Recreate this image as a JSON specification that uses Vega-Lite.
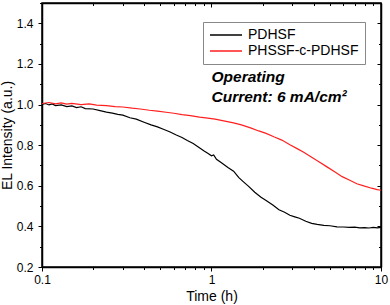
{
  "$schema": "https://vega.github.io/schema/vega-lite/v6.json",
  "width": 339,
  "height": 264,
  "autosize": {"type": "none"},
  "padding": {"left": 42, "top": 3, "right": 9, "bottom": 38},
  "background": "white",
  "config": {
    "font": "Liberation Sans",
    "view": {"stroke": "black", "strokeWidth": 1.5},
    "axis": {"grid": false, "domainColor": "black", "domainWidth": 1.5, "tickColor": "black", "tickWidth": 1, "labelColor": "black", "titleColor": "black", "labelFont": "Liberation Sans", "titleFont": "Liberation Sans", "labelFontSize": 12, "titleFontSize": 14, "titleFontWeight": "normal", "labelFlush": false, "labelOverlap": false}
  },
  "datasets": {
    "curves": [
      {"t": 0.100, "v": 1.000, "s": "PDHSF"},
      {"t": 0.105, "v": 1.005, "s": "PDHSF"},
      {"t": 0.110, "v": 0.998, "s": "PDHSF"},
      {"t": 0.115, "v": 1.003, "s": "PDHSF"},
      {"t": 0.120, "v": 0.995, "s": "PDHSF"},
      {"t": 0.130, "v": 0.998, "s": "PDHSF"},
      {"t": 0.140, "v": 0.990, "s": "PDHSF"},
      {"t": 0.150, "v": 0.993, "s": "PDHSF"},
      {"t": 0.160, "v": 0.985, "s": "PDHSF"},
      {"t": 0.170, "v": 0.989, "s": "PDHSF"},
      {"t": 0.180, "v": 0.980, "s": "PDHSF"},
      {"t": 0.200, "v": 0.978, "s": "PDHSF"},
      {"t": 0.220, "v": 0.970, "s": "PDHSF"},
      {"t": 0.240, "v": 0.963, "s": "PDHSF"},
      {"t": 0.260, "v": 0.958, "s": "PDHSF"},
      {"t": 0.280, "v": 0.952, "s": "PDHSF"},
      {"t": 0.300, "v": 0.948, "s": "PDHSF"},
      {"t": 0.330, "v": 0.935, "s": "PDHSF"},
      {"t": 0.360, "v": 0.928, "s": "PDHSF"},
      {"t": 0.400, "v": 0.913, "s": "PDHSF"},
      {"t": 0.440, "v": 0.900, "s": "PDHSF"},
      {"t": 0.480, "v": 0.890, "s": "PDHSF"},
      {"t": 0.520, "v": 0.878, "s": "PDHSF"},
      {"t": 0.570, "v": 0.865, "s": "PDHSF"},
      {"t": 0.620, "v": 0.850, "s": "PDHSF"},
      {"t": 0.670, "v": 0.838, "s": "PDHSF"},
      {"t": 0.720, "v": 0.823, "s": "PDHSF"},
      {"t": 0.780, "v": 0.808, "s": "PDHSF"},
      {"t": 0.840, "v": 0.790, "s": "PDHSF"},
      {"t": 0.900, "v": 0.772, "s": "PDHSF"},
      {"t": 0.950, "v": 0.760, "s": "PDHSF"},
      {"t": 1.000, "v": 0.748, "s": "PDHSF"},
      {"t": 1.030, "v": 0.752, "s": "PDHSF"},
      {"t": 1.070, "v": 0.730, "s": "PDHSF"},
      {"t": 1.150, "v": 0.712, "s": "PDHSF"},
      {"t": 1.250, "v": 0.690, "s": "PDHSF"},
      {"t": 1.350, "v": 0.672, "s": "PDHSF"},
      {"t": 1.450, "v": 0.640, "s": "PDHSF"},
      {"t": 1.550, "v": 0.618, "s": "PDHSF"},
      {"t": 1.650, "v": 0.598, "s": "PDHSF"},
      {"t": 1.800, "v": 0.568, "s": "PDHSF"},
      {"t": 1.950, "v": 0.545, "s": "PDHSF"},
      {"t": 2.100, "v": 0.528, "s": "PDHSF"},
      {"t": 2.300, "v": 0.505, "s": "PDHSF"},
      {"t": 2.500, "v": 0.482, "s": "PDHSF"},
      {"t": 2.700, "v": 0.470, "s": "PDHSF"},
      {"t": 2.900, "v": 0.455, "s": "PDHSF"},
      {"t": 3.100, "v": 0.447, "s": "PDHSF"},
      {"t": 3.300, "v": 0.440, "s": "PDHSF"},
      {"t": 3.600, "v": 0.425, "s": "PDHSF"},
      {"t": 3.900, "v": 0.415, "s": "PDHSF"},
      {"t": 4.200, "v": 0.410, "s": "PDHSF"},
      {"t": 4.600, "v": 0.405, "s": "PDHSF"},
      {"t": 5.000, "v": 0.403, "s": "PDHSF"},
      {"t": 5.500, "v": 0.398, "s": "PDHSF"},
      {"t": 6.000, "v": 0.397, "s": "PDHSF"},
      {"t": 6.500, "v": 0.395, "s": "PDHSF"},
      {"t": 7.000, "v": 0.396, "s": "PDHSF"},
      {"t": 7.500, "v": 0.393, "s": "PDHSF"},
      {"t": 8.000, "v": 0.394, "s": "PDHSF"},
      {"t": 8.500, "v": 0.392, "s": "PDHSF"},
      {"t": 9.000, "v": 0.395, "s": "PDHSF"},
      {"t": 9.500, "v": 0.393, "s": "PDHSF"},
      {"t": 10.00, "v": 0.395, "s": "PDHSF"},
      {"t": 0.100, "v": 1.005, "s": "PHSSF-c-PDHSF"},
      {"t": 0.110, "v": 1.010, "s": "PHSSF-c-PDHSF"},
      {"t": 0.120, "v": 1.003, "s": "PHSSF-c-PDHSF"},
      {"t": 0.130, "v": 1.008, "s": "PHSSF-c-PDHSF"},
      {"t": 0.140, "v": 1.002, "s": "PHSSF-c-PDHSF"},
      {"t": 0.150, "v": 1.006, "s": "PHSSF-c-PDHSF"},
      {"t": 0.170, "v": 1.000, "s": "PHSSF-c-PDHSF"},
      {"t": 0.190, "v": 1.003, "s": "PHSSF-c-PDHSF"},
      {"t": 0.210, "v": 0.997, "s": "PHSSF-c-PDHSF"},
      {"t": 0.240, "v": 0.995, "s": "PHSSF-c-PDHSF"},
      {"t": 0.270, "v": 0.990, "s": "PHSSF-c-PDHSF"},
      {"t": 0.300, "v": 0.988, "s": "PHSSF-c-PDHSF"},
      {"t": 0.340, "v": 0.982, "s": "PHSSF-c-PDHSF"},
      {"t": 0.380, "v": 0.978, "s": "PHSSF-c-PDHSF"},
      {"t": 0.430, "v": 0.972, "s": "PHSSF-c-PDHSF"},
      {"t": 0.480, "v": 0.968, "s": "PHSSF-c-PDHSF"},
      {"t": 0.540, "v": 0.962, "s": "PHSSF-c-PDHSF"},
      {"t": 0.600, "v": 0.957, "s": "PHSSF-c-PDHSF"},
      {"t": 0.670, "v": 0.950, "s": "PHSSF-c-PDHSF"},
      {"t": 0.750, "v": 0.945, "s": "PHSSF-c-PDHSF"},
      {"t": 0.850, "v": 0.938, "s": "PHSSF-c-PDHSF"},
      {"t": 0.950, "v": 0.933, "s": "PHSSF-c-PDHSF"},
      {"t": 1.050, "v": 0.928, "s": "PHSSF-c-PDHSF"},
      {"t": 1.200, "v": 0.918, "s": "PHSSF-c-PDHSF"},
      {"t": 1.350, "v": 0.910, "s": "PHSSF-c-PDHSF"},
      {"t": 1.500, "v": 0.900, "s": "PHSSF-c-PDHSF"},
      {"t": 1.700, "v": 0.885, "s": "PHSSF-c-PDHSF"},
      {"t": 1.900, "v": 0.870, "s": "PHSSF-c-PDHSF"},
      {"t": 2.100, "v": 0.858, "s": "PHSSF-c-PDHSF"},
      {"t": 2.350, "v": 0.840, "s": "PHSSF-c-PDHSF"},
      {"t": 2.600, "v": 0.825, "s": "PHSSF-c-PDHSF"},
      {"t": 2.900, "v": 0.802, "s": "PHSSF-c-PDHSF"},
      {"t": 3.200, "v": 0.783, "s": "PHSSF-c-PDHSF"},
      {"t": 3.500, "v": 0.765, "s": "PHSSF-c-PDHSF"},
      {"t": 3.900, "v": 0.740, "s": "PHSSF-c-PDHSF"},
      {"t": 4.300, "v": 0.718, "s": "PHSSF-c-PDHSF"},
      {"t": 4.800, "v": 0.693, "s": "PHSSF-c-PDHSF"},
      {"t": 5.300, "v": 0.670, "s": "PHSSF-c-PDHSF"},
      {"t": 5.900, "v": 0.645, "s": "PHSSF-c-PDHSF"},
      {"t": 6.500, "v": 0.628, "s": "PHSSF-c-PDHSF"},
      {"t": 7.200, "v": 0.610, "s": "PHSSF-c-PDHSF"},
      {"t": 8.000, "v": 0.598, "s": "PHSSF-c-PDHSF"},
      {"t": 8.800, "v": 0.588, "s": "PHSSF-c-PDHSF"},
      {"t": 9.500, "v": 0.581, "s": "PHSSF-c-PDHSF"},
      {"t": 10.00, "v": 0.578, "s": "PHSSF-c-PDHSF"}
    ],
    "notes": [
      {"t": 1.0, "v": 1.1125, "label": "Operating"},
      {"t": 1.0, "v": 1.014, "label": "Current: 6 mA/cm²"}
    ]
  },
  "resolve": {"axis": {"x": "independent", "y": "independent"}},
  "layer": [
    {
      "data": {"name": "curves"},
      "mark": {"type": "line", "strokeWidth": 1.2, "clip": true},
      "encoding": {
        "x": {
          "field": "t", "type": "quantitative",
          "scale": {"type": "log", "domain": [0.1, 10], "nice": false},
          "axis": {
            "orient": "bottom", "title": "Time (h)", "titlePadding": 4,
            "values": [0.1, 0.2, 0.3, 0.4, 0.5, 0.6, 0.7, 0.8, 0.9, 1, 2, 3, 4, 5, 6, 7, 8, 9, 10],
            "labelExpr": "datum.value == 0.1 ? '0.1' : datum.value == 1 ? '1' : datum.value == 10 ? '10' : ''",
            "tickSize": {"condition": {"test": "datum.value == 0.1 || datum.value == 1 || datum.value == 10", "value": 4}, "value": 2.5},
            "labelPadding": 3
          }
        },
        "y": {
          "field": "v", "type": "quantitative",
          "scale": {"domain": [0.2, 1.5], "nice": false, "zero": false},
          "axis": {
            "orient": "left", "title": "EL Intensity (a.u.)", "titlePadding": 2,
            "values": [0.2, 0.3, 0.4, 0.5, 0.6, 0.7, 0.8, 0.9, 1.0, 1.1, 1.2, 1.3, 1.4, 1.5],
            "labelExpr": "round(datum.value * 10) % 2 == 0 ? format(datum.value, '.1f') : ''",
            "tickSize": {"condition": {"test": "round(datum.value * 10) % 2 == 0", "value": 4}, "value": 2.5},
            "labelPadding": 5
          }
        },
        "color": {
          "field": "s", "type": "nominal",
          "scale": {"domain": ["PDHSF", "PHSSF-c-PDHSF"], "range": ["#000000", "#ff1f1f"]},
          "legend": {
            "title": null, "orient": "none", "legendX": 161, "legendY": 19,
            "symbolType": "M-1,0H4.333", "symbolSize": 144, "symbolStrokeWidth": 1.5,
            "labelFontSize": 14, "labelFont": "Liberation Sans", "labelColor": "black", "labelOffset": 25,
            "padding": 6, "rowPadding": 2,
            "strokeColor": "#888888", "fillColor": "white"
          }
        }
      }
    },
    {
      "data": {"name": "notes"},
      "mark": {"type": "text", "align": "left", "baseline": "alphabetic", "fontSize": 15.5, "fontWeight": "bold", "fontStyle": "italic", "font": "Liberation Sans", "color": "black"},
      "encoding": {
        "x": {"field": "t", "type": "quantitative", "axis": null},
        "y": {"field": "v", "type": "quantitative", "axis": null},
        "text": {"field": "label"}
      }
    },
    {
      "data": {"name": "curves"},
      "mark": {"type": "point", "opacity": 0},
      "encoding": {
        "x": {
          "field": "t", "type": "quantitative",
          "axis": {
            "orient": "top", "title": null, "labels": false,
            "values": [0.1, 0.2, 0.3, 0.4, 0.5, 0.6, 0.7, 0.8, 0.9, 1, 2, 3, 4, 5, 6, 7, 8, 9, 10],
            "tickSize": {"condition": {"test": "datum.value == 0.1 || datum.value == 1 || datum.value == 10", "value": -4}, "value": -2.5}
          }
        },
        "y": {
          "field": "v", "type": "quantitative",
          "axis": {
            "orient": "right", "title": null, "labels": false,
            "values": [0.2, 0.3, 0.4, 0.5, 0.6, 0.7, 0.8, 0.9, 1.0, 1.1, 1.2, 1.3, 1.4, 1.5],
            "tickSize": {"condition": {"test": "round(datum.value * 10) % 2 == 0", "value": -4}, "value": -2.5}
          }
        }
      }
    }
  ]
}
